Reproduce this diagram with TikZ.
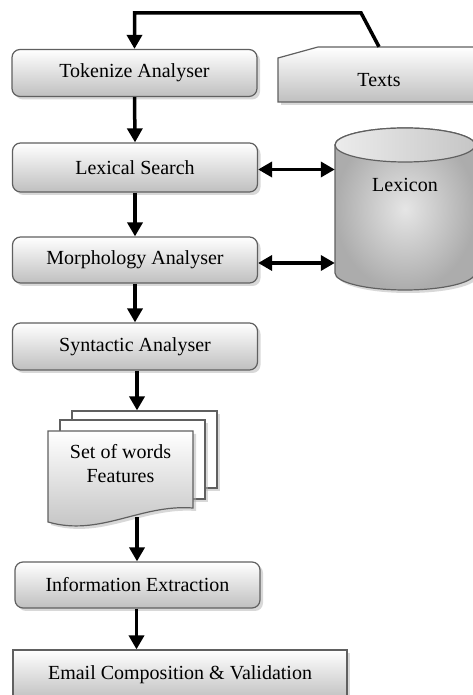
\documentclass[tikz,border=0pt]{standalone}
\usepackage{fontspec}
\setmainfont{Liberation Serif}
\usetikzlibrary{arrows.meta,shadows}

\tikzset{
  shade box/.style={draw=gray!75!black, line width=1.2pt, top color=white, bottom color=gray!50,
    drop shadow={shadow xshift=3pt, shadow yshift=-3pt, fill=black!30}},
  proc/.style={shade box, rounded corners=8pt, minimum width=245pt, minimum height=47pt,
    font=\fontsize{20}{24}\selectfont},
  page/.style={draw=gray!75!black, line width=1.2pt, fill=white,
    drop shadow={shadow xshift=3pt, shadow yshift=-3pt, fill=black!30}},
  txt/.style={font=\fontsize{20}{24}\selectfont, align=center},
  flow/.style={line width=3.5pt, -{Triangle[length=14pt,width=15pt]}},
  both/.style={line width=3.5pt, {Triangle[length=14pt,width=15pt]}-{Triangle[length=14pt,width=15pt]}}
}

\begin{document}
\begin{tikzpicture}[x=1pt,y=1pt]
    \path[use as bounding box] (0,0) rectangle (473,695);
    \clip (0,0) rectangle (473,695);

    % processing steps
    \node[proc] (tok) at (134.5,622) {Tokenize Analyser};
    \node[proc, minimum height=49pt] (lexs) at (135,527.5) {Lexical Search};
    \node[proc, minimum height=46pt] (morph) at (135,435) {Morphology Analyser};
    \node[proc] (syn) at (135,348.5) {Syntactic Analyser};
    \node[proc, minimum height=46pt] (info) at (137.5,110) {Information Extraction};
    \node[proc, rounded corners=0pt, minimum width=334pt, minimum height=50pt] (mail) at (180,20)
        {Email Composition \& Validation};

    % input texts (manual input)
    \path[shade box] (278,593) -- (278,637) -- (318,648) -- (480,648) -- (480,593) -- cycle;
    \node[txt, minimum width=202pt, minimum height=44pt] (texts) at (379,615) {Texts};

    % lexicon (cylinder)
    \path[draw=gray!75!black, line width=1.2pt, inner color=gray!20, outer color=gray!65,
        drop shadow={shadow xshift=3pt, shadow yshift=-3pt, fill=black!30}]
        (335,550) -- (335,422) arc (180:360:70 and 17) -- (475,550) arc (0:180:70 and 17) -- cycle;
    \path[draw=gray!75!black, line width=1.2pt, left color=gray!15, right color=gray!45]
        (405,550) ellipse (70 and 17);
    \node[txt, minimum width=140pt, inner sep=0pt] (lex) at (405,510) {Lexicon};

    % set of words (multi document)
    \node[page, minimum width=145pt, minimum height=77pt] (pg3) at (144.5,245.5) {};
    \node[page, minimum width=145pt, minimum height=79pt] (pg2) at (132.5,235.5) {};
    \path[shade box] (48,264) -- (193,264) -- (193,187)
        .. controls (140,191) and (100,158) .. (48,173) -- cycle;
    \node[txt, text depth=0pt] (feat) at (120.5,231.5) {Set of words\\Features};
    \coordinate (fb) at (137,178);

    % connectors
    \draw[flow] ([yshift=11pt]texts.north) -- ++(-18,34) -| (tok.north);
    \draw[flow] (tok.south) -- (lexs.north);
    \draw[flow] (lexs.south) -- (morph.north);
    \draw[flow] (morph.south) -- (syn.north);
    \draw[flow] ([xshift=2pt]syn.south) -- ([xshift=2pt]syn.south |- pg3.north);
    \draw[flow] (fb) -- (fb |- info.north);
    \draw[flow] ([xshift=-1pt]info.south) -- ([xshift=-1pt]info.south |- mail.north);
    \draw[both] ([yshift=-2pt]lexs.east) -- ([yshift=-2pt]lexs.east -| lex.west);
    \draw[both] ([yshift=-3pt]morph.east) -- ([yshift=-3pt]morph.east -| lex.west);
\end{tikzpicture}
\end{document}
